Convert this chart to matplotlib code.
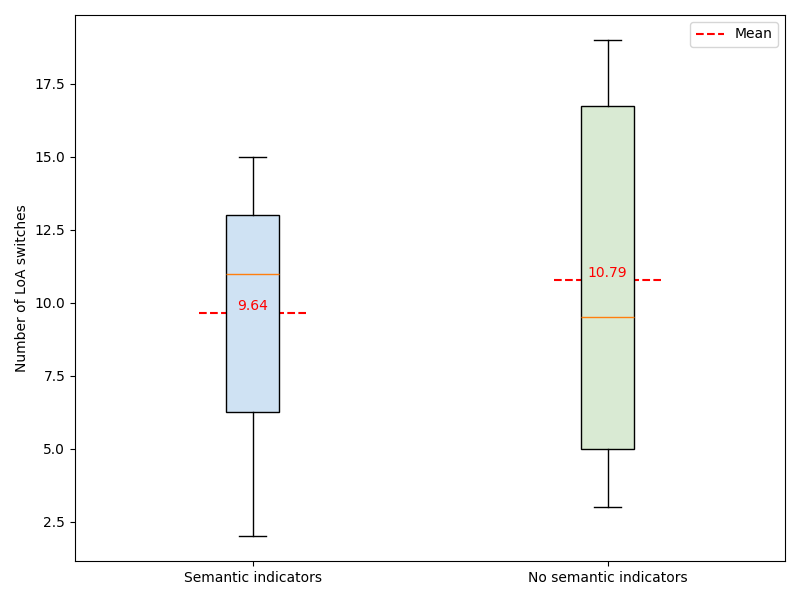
import matplotlib
matplotlib.use("Agg")
import matplotlib.pyplot as plt

labels = ["Semantic indicators", "No semantic indicators"]
whislo = [2, 3]
q1 = [6.25, 5]
med = [11, 9.5]
q3 = [13, 16.75]
whishi = [15, 19]
means = [9.64, 10.79]
colors = ["#cfe2f3", "#d9ead3"]

stats = []
for i in range(len(labels)):
    stats.append({"label": labels[i], "whislo": whislo[i], "q1": q1[i], "med": med[i],
                  "q3": q3[i], "whishi": whishi[i], "fliers": []})

fig, ax = plt.subplots(figsize=(8, 6), dpi=100)
bp = ax.bxp(stats, positions=[1, 2], widths=0.15, patch_artist=True, showfliers=False)
for patch, c in zip(bp["boxes"], colors):
    patch.set_facecolor(c)
    patch.set_zorder(2)

for i, m in enumerate(means):
    x = i + 1
    ax.hlines(m, x - 0.15, x + 0.15, colors="red", linestyles="--", linewidth=1.5,
              zorder=1, label="Mean" if i == 0 else None)
    ax.text(x, m, f"{m:.2f}", ha="center", va="bottom", color="red", zorder=3)

ax.set_ylabel("Number of LoA switches")
ax.legend(loc="upper right")
plt.tight_layout()
plt.savefig("out.png")
